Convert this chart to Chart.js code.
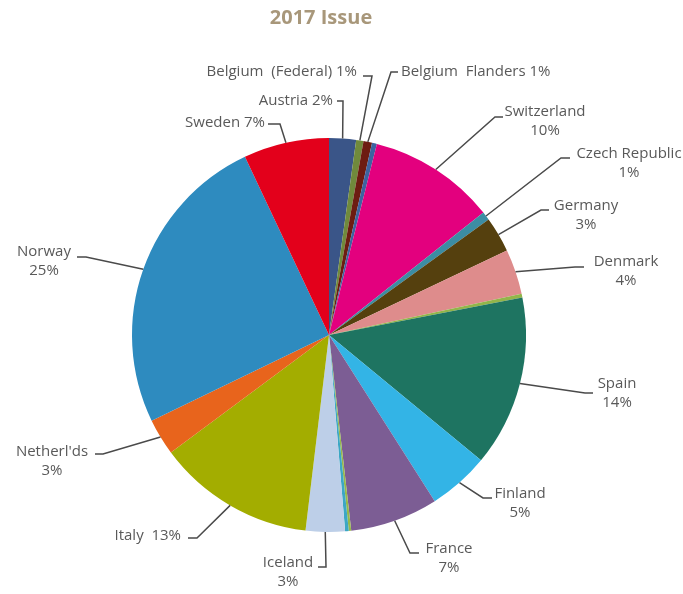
<!DOCTYPE html>
<html>
<head>
<meta charset="utf-8">
<script src="https://cdn.jsdelivr.net/npm/chart.js@4/dist/chart.umd.min.js"></script>
<style>
  html, body { margin: 0; padding: 0; background: #fff; }
  #wrap { width: 683px; height: 594px; }
</style>
</head>
<body>
<div id="wrap"><canvas id="issueChart" width="683" height="594"></canvas></div>
<script>
const countries = [
  "Austria", "Belgium  (Federal)", "Belgium  Flanders", "", "Switzerland",
  "Czech Republic", "Germany", "Denmark", "", "Spain", "Finland", "France",
  "", "", "Iceland", "Italy ", "Netherl'ds", "Norway", "Sweden",
];

// share of the 2017 issue, in percent
const shares = [
  2.2, 0.6, 0.7, 0.4, 10.4,
  0.7, 2.9, 3.7, 0.3, 14.0, 5.0, 7.2,
  0.2, 0.3, 3.2, 12.9, 3.0, 25.1, 7.0,
];

const sliceColors = [
  "#3a5588", "#708a3c", "#6d1c12", "#3d63a0", "#e3007e",
  "#3c8da3", "#55400e", "#de8c8c", "#92b54a", "#1e7461", "#33b4e6", "#7c5d94",
  "#97b84a", "#3ca7c4", "#bdcfe8", "#a3ad00", "#e8641c", "#2e8bbf", "#e3001b",
];

// where each callout sits: text anchor, alignment, and the leader's elbow / end
const callouts = {
  0: { x: 333, y: 101, align: "right", single: true, elbow: [343, 101], end: [337, 101] },
  1: { x: 357, y: 72, align: "right", single: true, elbow: [372, 76], end: [363, 76] },
  2: { x: 401, y: 72, align: "left", single: true, elbow: [391, 72], end: [398, 72] },
  4: { x: 545, y: 112, align: "center", elbow: [495, 117], end: [503, 117] },
  5: { x: 629, y: 154, align: "center", elbow: [561, 158], end: [570, 158] },
  6: { x: 586, y: 206, align: "center", elbow: [541, 210], end: [549, 210] },
  7: { x: 626, y: 262, align: "center", elbow: [575, 267], end: [584, 267] },
  9: { x: 617, y: 384, align: "center", elbow: [585, 393], end: [593, 393] },
  10: { x: 520, y: 494, align: "center", elbow: [483, 498], end: [492, 498] },
  11: { x: 449, y: 549, align: "center", elbow: [410, 553], end: [419, 553] },
  14: { x: 288, y: 563, align: "center", elbow: [326, 567], end: [318, 567] },
  15: { x: 181, y: 536, align: "right", single: true, elbow: [197, 538], end: [188, 538] },
  16: { x: 52, y: 452, align: "center", elbow: [103, 454], end: [95, 454] },
  17: { x: 44, y: 252, align: "center", elbow: [86, 257], end: [77, 257] },
  18: { x: 265, y: 123, align: "right", single: true, elbow: [280, 124], end: [268, 124] },
};

const labelFont = "15px 'Open Sans'";
const labelColor = "#595959";

const calloutPlugin = {
  id: "callouts",
  afterDatasetsDraw(chart) {
    const { ctx } = chart;
    const meta = chart.getDatasetMeta(0);
    const data = chart.data.datasets[0].data;
    const total = data.reduce((a, b) => a + b, 0);

    ctx.save();
    // title
    ctx.font = "bold 20px 'Open Sans'";
    ctx.fillStyle = "#a8977a";
    ctx.textAlign = "center";
    ctx.textBaseline = "middle";
    ctx.fillText("2017 Issue", 321, 18);

    ctx.font = labelFont;
    meta.data.forEach((arc, i) => {
      const c = callouts[i];
      if (!c) return;
      const { x, y, startAngle, endAngle, outerRadius } = arc.getProps(
        ["x", "y", "startAngle", "endAngle", "outerRadius"],
        true,
      );
      const mid = (startAngle + endAngle) / 2;
      const ax = x + Math.cos(mid) * outerRadius;
      const ay = y + Math.sin(mid) * outerRadius;

      ctx.strokeStyle = "#4a4a4a";
      ctx.lineWidth = 1.5;
      ctx.beginPath();
      ctx.moveTo(ax, ay);
      ctx.lineTo(c.elbow[0], c.elbow[1]);
      ctx.lineTo(c.end[0], c.end[1]);
      ctx.stroke();

      const pct = Math.round((data[i] / total) * 100) + "%";
      ctx.fillStyle = labelColor;
      ctx.textAlign = c.align;
      ctx.textBaseline = "middle";
      if (c.single) {
        ctx.fillText(chart.data.labels[i] + " " + pct, c.x, c.y);
      } else {
        ctx.fillText(chart.data.labels[i], c.x, c.y);
        ctx.fillText(pct, c.x, c.y + 19);
      }
    });
    ctx.restore();
  },
};

new Chart(document.getElementById("issueChart").getContext("2d"), {
  type: "pie",
  data: {
    labels: countries,
    datasets: [
      {
        data: shares,
        backgroundColor: sliceColors,
        borderWidth: 0,
      },
    ],
  },
  options: {
    responsive: false,
    animation: false,
    radius: 197,
    layout: {
      padding: { left: 132, right: 157, top: 138, bottom: 62 },
    },
    plugins: {
      legend: { display: false },
      tooltip: { enabled: false },
      title: { display: false },
    },
  },
  plugins: [calloutPlugin],
});
</script>
</body>
</html>
